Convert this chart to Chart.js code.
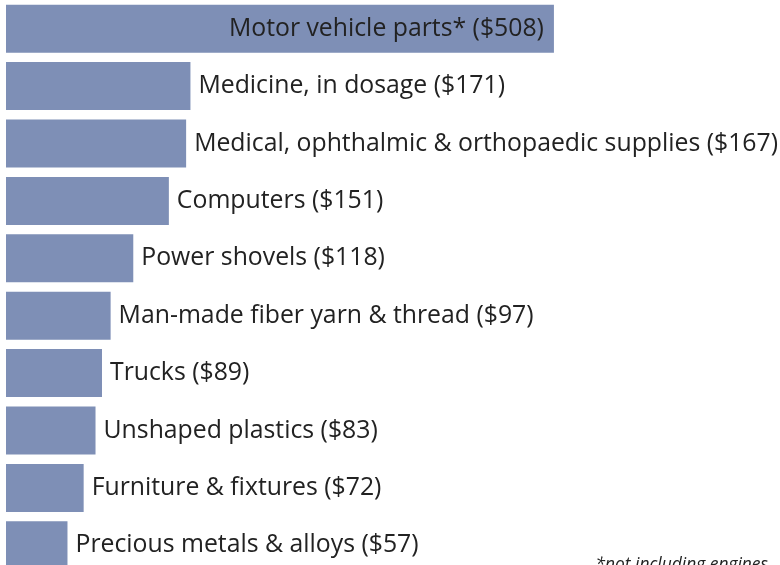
<!DOCTYPE html>
<html>
<head>
<meta charset="utf-8">
<script src="https://cdn.jsdelivr.net/npm/chart.js@4/dist/chart.umd.min.js"></script>
<style>
  html, body { margin: 0; padding: 0; background: #fff; overflow: hidden; }
  .wrap { width: 780px; height: 565px; overflow: hidden; position: relative; }
  canvas { display: block; }
</style>
</head>
<body>
<div class="wrap"><canvas id="chart" width="780" height="574"></canvas></div>
<script>
// exports, millions of dollars
const products = [
  "Motor vehicle parts*",
  "Medicine, in dosage",
  "Medical, ophthalmic & orthopaedic supplies",
  "Computers",
  "Power shovels",
  "Man-made fiber yarn & thread",
  "Trucks",
  "Unshaped plastics",
  "Furniture & fixtures",
  "Precious metals & alloys"
]
const values = [508, 171, 167, 151, 118, 97, 89, 83, 72, 57]
const footnote = "*not including engines"

const barColor = "#7e8fb6"
const fontName = "'Open Sans', 'Noto Sans', sans-serif"

// labels next to bars, the first one sits inside its bar
const labelPlugin = {
  id: 'barLabels',
  afterDatasetsDraw(chart) {
    const ctx = chart.ctx
    const meta = chart.getDatasetMeta(0)
    ctx.save()
    ctx.font = "24.8px " + fontName
    ctx.fillStyle = "#222"
    ctx.textBaseline = "middle"
    meta.data.forEach((bar, i) => {
      const txt = products[i] + " ($" + values[i] + ")"
      if (i == 0) {
        ctx.textAlign = "right"
        ctx.fillText(txt, bar.x - 10, bar.y)
      } else {
        ctx.textAlign = "left"
        ctx.fillText(txt, bar.x + 8, bar.y)
      }
    })
    ctx.font = "italic 17.4px " + fontName
    ctx.textAlign = "right"
    ctx.textBaseline = "alphabetic"
    ctx.fillText(footnote, 768, 570)
    ctx.restore()
  }
}

new Chart(document.getElementById('chart'), {
  type: 'bar',
  data: {
    labels: products,
    datasets: [{
      data: values,
      backgroundColor: barColor,
      barPercentage: 0.837,
      categoryPercentage: 1
    }]
  },
  options: {
    indexAxis: 'y',
    responsive: false,
    animation: false,
    layout: { padding: { left: 6, top: 0, right: 0, bottom: 0 } },
    plugins: { legend: { display: false }, tooltip: { enabled: false } },
    scales: {
      x: { display: false, min: 0, max: 717.6 },
      y: { display: false }
    }
  },
  plugins: [labelPlugin]
})
</script>
</body>
</html>
